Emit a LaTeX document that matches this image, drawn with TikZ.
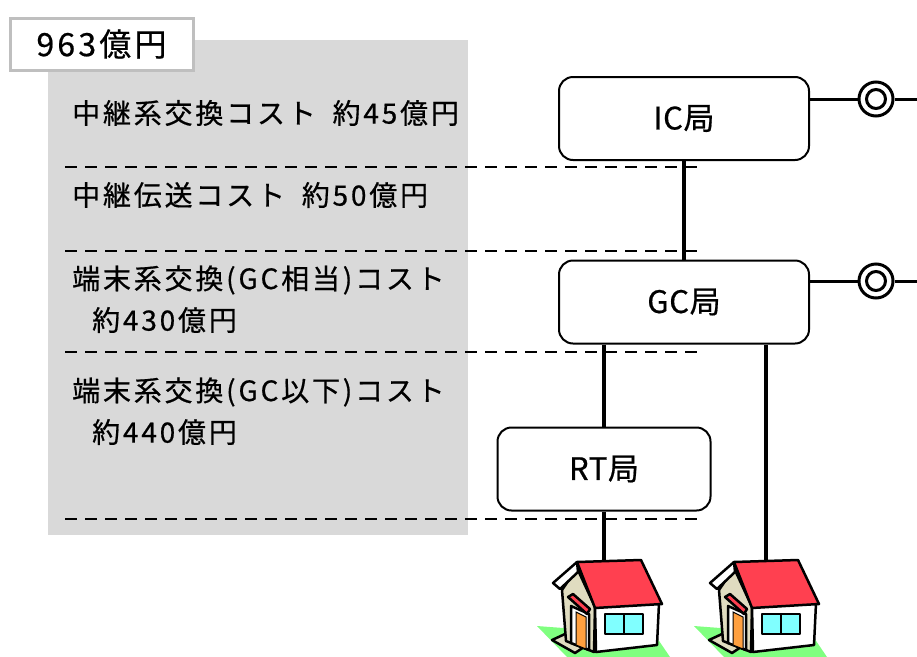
\documentclass[tikz,border=0pt]{standalone}
\usepackage{fontspec}
\newfontfamily\jp[LetterSpace=10, FakeBold=0.6]{Noto Sans CJK JP}
\newfontfamily\jpnode[LetterSpace=2, FakeBold=0.6]{Noto Sans CJK JP}
\usetikzlibrary{calc}
\definecolor{panelgray}{HTML}{D9D9D9}
\definecolor{labelrim}{HTML}{BFBFBF}
\definecolor{roofred}{HTML}{FF4050}
\definecolor{glasscyan}{HTML}{80FFFF}
\definecolor{lawn}{HTML}{80FF80}
\definecolor{wallbeige}{HTML}{E0DCC0}
\definecolor{doororange}{HTML}{FFA040}
\tikzset{
  office/.style={draw=black, line width=2pt, fill=white, rounded corners=14pt,
    minimum width=250pt, minimum height=83pt, inner sep=0pt,
    font=\jpnode\fontsize{31}{35}\selectfont},
  costtext/.style={anchor=west, inner sep=0pt, font=\jp\fontsize{28}{32}\selectfont},
  layer/.style={dashed, line width=2pt, dash pattern=on 12pt off 8pt},
  trunk/.style={line width=4pt},
  port/.style={circle, draw=black, line width=3pt, minimum size=34pt, inner sep=0pt},
  portcore/.style={circle, draw=black, line width=3pt, minimum size=19pt, inner sep=0pt},
  edge/.style={line width=2.5pt, line join=round},
}
\begin{document}
\begin{tikzpicture}[x=1pt, y=-1pt]
\useasboundingbox (0,0) rectangle (917,656);

% cost panel
\fill[panelgray] (48,40) rectangle (468,535);

% layer boundaries
\draw[layer] (65,167) -- (697,167);
\draw[layer] (65,251) -- (697,251);
\draw[layer] (65,352) -- (697,352);
\draw[layer] (65,519) -- (697,519);

% total label
\node[draw=labelrim, line width=3pt, fill=white, minimum width=183pt, minimum height=52pt,
      inner sep=0pt, font=\jp\fontsize{32}{36}\selectfont] (total) at (101.5,44) {963億円};

% cost items
\node[costtext] (c1) at (72,113) {中継系交換コスト\hspace{0.6em}約45億円};
\node[costtext] (c2) at (72,195) {中継伝送コスト\hspace{0.6em}約50億円};
\node[costtext] (c3) at (72,280) {端末系交換(GC相当)コスト};
\node[costtext] (c3b) at (92,320) {約430億円};
\node[costtext] (c4) at (72,392) {端末系交換(GC以下)コスト};
\node[costtext] (c4b) at (92,432) {約440億円};

% offices
\node[office] (IC) at (684,118.5) {IC局};
\node[office] (GC) at (684,302) {GC局};
\node[office, minimum width=213pt] (RT) at (604,469) {RT局};

% upstream ports
\node[port] (icport) at (876,99) {};
\node[portcore] at (icport) {};
\node[port] (gcport) at (876,281) {};
\node[portcore] at (gcport) {};
\coordinate (icout) at (917,99);
\coordinate (gcout) at (917,281);

% subscriber drop points
\coordinate (home1) at (604,567);
\coordinate (home2) at (766,567);

% connectors
\draw[trunk] (IC.south) -- (GC.north);
\draw[trunk] (RT.north |- GC.south) -- (RT.north);
\draw[trunk] (RT.south) -- (home1);
\draw[trunk] (home2 |- GC.south) -- (home2);
\draw[line width=3pt] (icport.west -| IC.east) -- (icport.west);
\draw[line width=3pt] (icport.east) -- (icout);
\draw[line width=3pt] (gcport.west -| GC.east) -- (gcport.west);
\draw[line width=3pt] (gcport.east) -- (gcout);

% houses
\foreach \dx in {0,157} {
\begin{scope}[shift={(\dx,0)}]
  % lawn
  \fill[lawn] (537,626) -- (567,657) -- (670,657) -- (655,635) -- cycle;
  % front step
  \filldraw[fill=wallbeige, edge] (552,640) -- (565,634) -- (584,647) -- (575,653) -- cycle;
  % gable wall
  \filldraw[fill=wallbeige, edge] (577,568) -- (562,590) -- (566,641) -- (594,652) -- (595,607) -- cycle;
  % gable trim
  \filldraw[fill=white, edge] (577,562) -- (553,583) -- (560,589) -- (578,572) -- cycle;
  % door and canopy
  \filldraw[fill=white, edge] (571,606) -- (589,614) -- (589,650) -- (571,643) -- cycle;
  \filldraw[fill=doororange, line width=1pt] (576,612) -- (586,617) -- (586,649) -- (576,645) -- cycle;
  \filldraw[fill=roofred, edge] (568,597) -- (573,594) -- (590,609) -- (587,614) -- cycle;
  % side wall
  \filldraw[fill=white, edge] (595,607) -- (659,603) -- (657,645) -- (596,652) -- cycle;
  % roof
  \filldraw[fill=roofred, edge] (577,562) -- (641,560) -- (662,604) -- (595,608) -- cycle;
  % window
  \filldraw[fill=glasscyan, edge] (605,614) rectangle (643,634);
  \draw[edge] (624,614) -- (624,634);
\end{scope}
}
\end{tikzpicture}
\end{document}
